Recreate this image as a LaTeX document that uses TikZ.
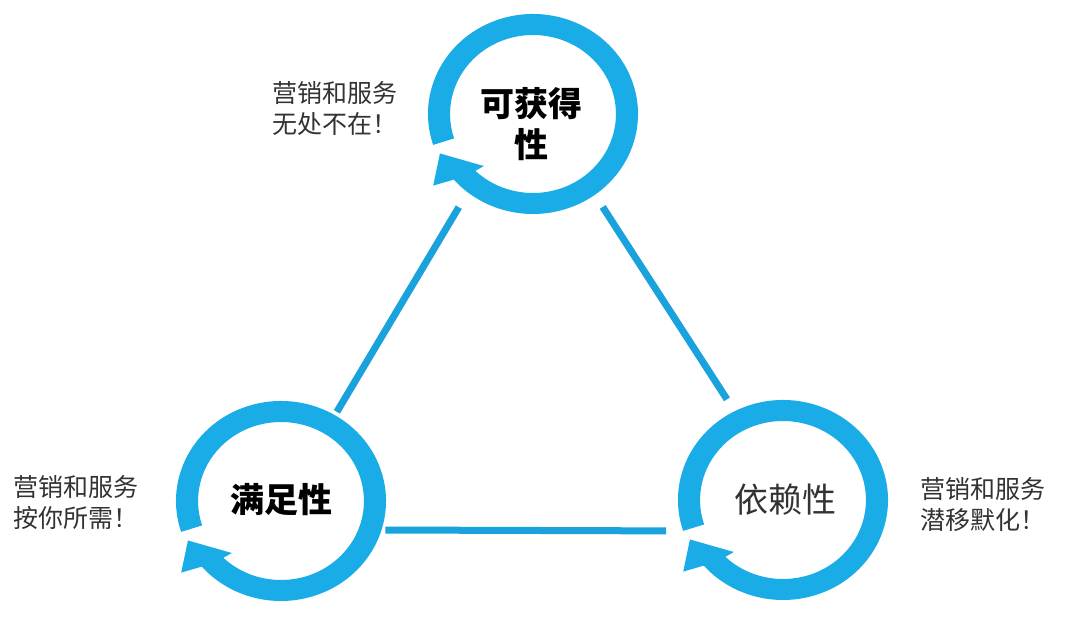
\documentclass[tikz,border=0pt]{standalone}
\usepackage{fontspec}
\newfontfamily\cjk{Noto Sans CJK SC}
\definecolor{ringc}{HTML}{1AACE6}
\definecolor{linec}{HTML}{1AA2DD}
\definecolor{txt}{HTML}{333333}
\tikzset{
  hub/.style={circle, minimum size=224pt, inner sep=0pt, draw=none},
  title/.style={font=\cjk\bfseries\fontsize{34}{41}\selectfont, align=center, text=black, inner sep=0pt},
  note/.style={font=\cjk\fontsize{25}{31}\selectfont, align=left, text=txt, anchor=west, inner sep=0pt},
  edge/.style={draw=linec, line width=7pt},
  pics/cyclering/.style={code={
    \fill[ringc] (198:100) arc[start angle=198, end angle=-139, radius=100]
      -- (217:119) -- (204:97) -- (228:70) -- (226:79)
      arc[start angle=-134, end angle=198, radius=79] -- cycle;
  }}
}
\begin{document}
\begin{tikzpicture}[x=1pt, y=1pt]
\path[use as bounding box, fill=white] (0,0) rectangle (1072,621);
% hubs
\node[hub] (A) at (533,507) {};
\node[hub] (B) at (281,120) {};
\node[hub] (C) at (783,121) {};
% rings
\pic[xscale=1.05] at (A) {cyclering};
\pic[xscale=1.05] at (B) {cyclering};
\pic[xscale=1.05] at (C) {cyclering};
% connectors
\draw[edge, shorten <=7pt, shorten >=-7pt] (A.231) -- (B.58);
\draw[edge, shorten <=4pt, shorten >=3pt] (A.307) -- (C.119);
\draw[edge, shorten <=-4pt, shorten >=9pt] (B.-15.5) -- (C.196);
% titles
\node[title] (At) at (531,496.5) {可获得\\性};
\node[title] (Bt) at (281,121) {满足性};
\node[title, font=\cjk\fontsize{34}{41}\selectfont, text=txt] (Ct) at (785,121) {依赖性};
% notes
\node[note] (La) at (272,512) {营销和服务\\无处不在！};
\node[note] (Lb) at (13,118.5) {营销和服务\\按你所需！};
\node[note] (Lc) at (920,116) {营销和服务\\潜移默化！};
\end{tikzpicture}
\end{document}
